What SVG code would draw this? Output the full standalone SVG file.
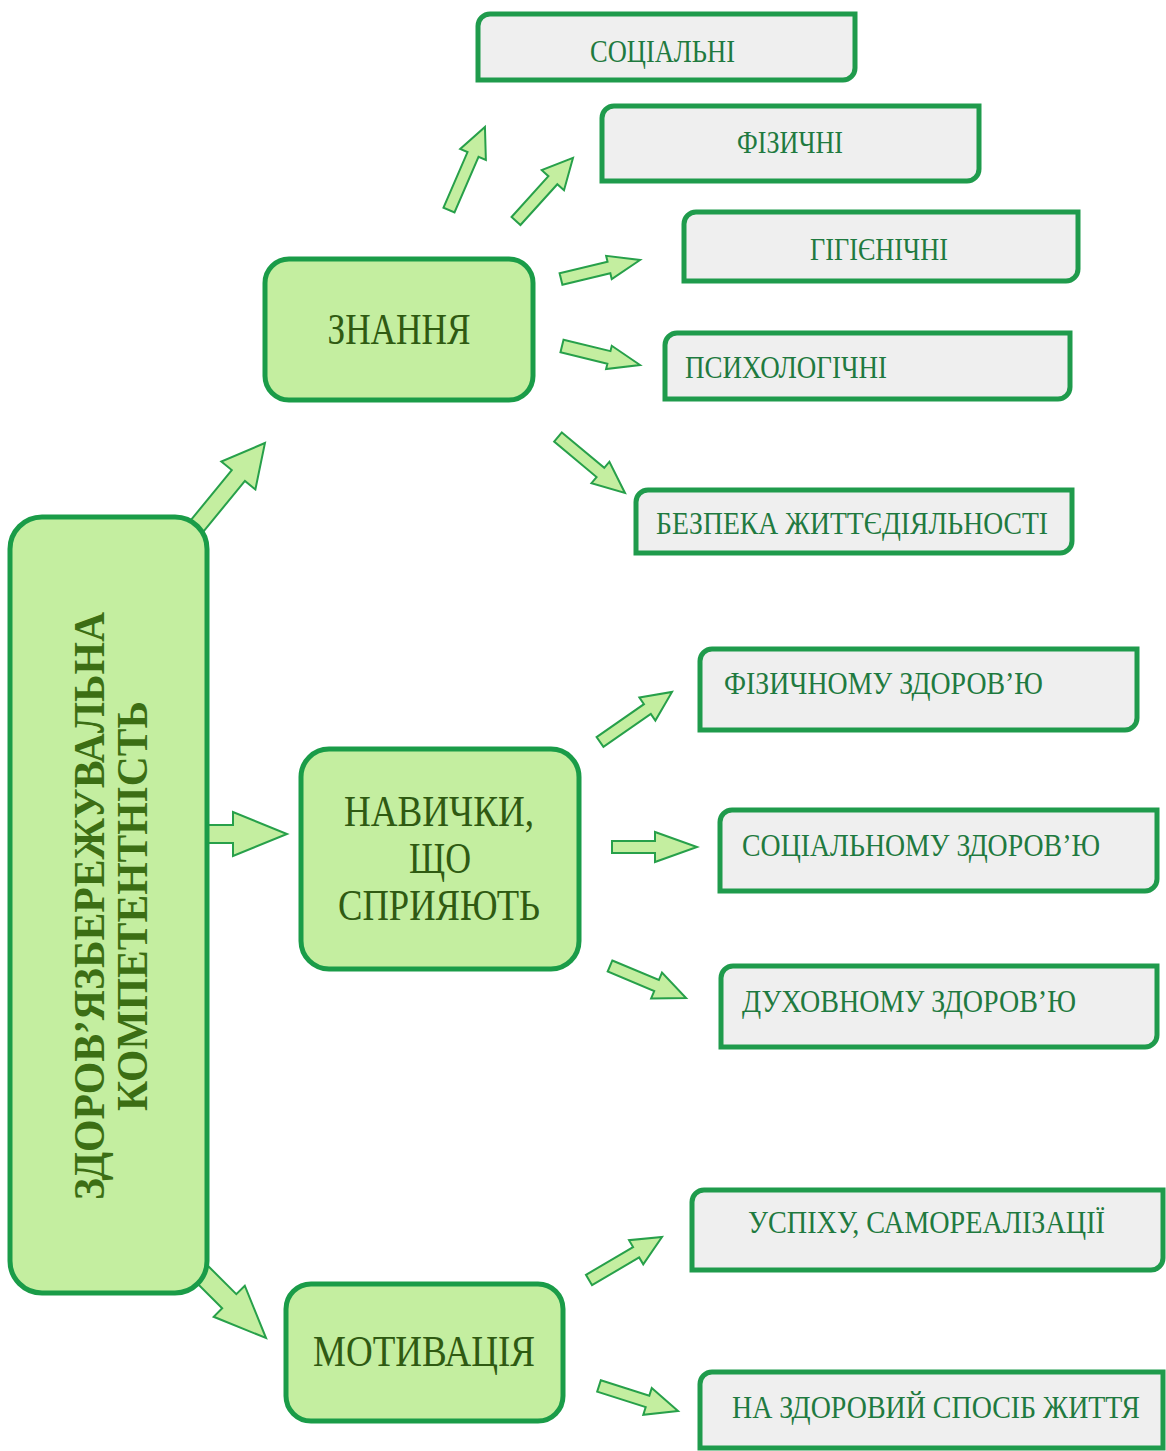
<svg xmlns="http://www.w3.org/2000/svg" width="1166" height="1451" viewBox="0 0 1166 1451">
<style>
.main{fill:#c4eea0;stroke:#1a9c48;stroke-width:5}
.leaf{fill:#efefef;stroke:#1f9b4c;stroke-width:5}
.arr{fill:#c4eea0;stroke:#27a04a;stroke-width:2;stroke-linejoin:miter}
.nt{font-family:"Liberation Serif","Times New Roman",serif;font-size:44px;fill:#2f5a12;text-anchor:middle}
.lt{font-family:"Liberation Serif","Times New Roman",serif;font-size:31px;fill:#1f7a40}
.mt{font-family:"Liberation Serif","Times New Roman",serif;font-size:44px;font-weight:bold;fill:#3c6e14;text-anchor:middle}
</style>
<rect width="1166" height="1451" fill="#ffffff"/>
<g id="connectors">
<polygon class="arr" transform="translate(188,537) rotate(-50.7)" points="0,-8.5 79.5,-8.5 79.5,-22 121.5,0 79.5,22 79.5,8.5 0,8.5"/>
<polygon class="arr" transform="translate(200,834) rotate(0)" points="0,-9 33,-9 33,-22 87,0 33,22 33,9 0,9"/>
<polygon class="arr" transform="translate(190,1262) rotate(45)" points="0,-10 55.5,-10 55.5,-22 107.5,0 55.5,22 55.5,10 0,10"/>
<polygon class="arr" transform="translate(449,210) rotate(-66.6)" points="0,-6 60.5,-6 60.5,-14 90.5,0 60.5,14 60.5,6 0,6"/>
<polygon class="arr" transform="translate(516,221) rotate(-47.9)" points="0,-6 55,-6 55,-15 85,0 55,15 55,6 0,6"/>
<polygon class="arr" transform="translate(561,279) rotate(-13.5)" points="0,-6 49.3,-6 49.3,-12 81.3,0 49.3,12 49.3,6 0,6"/>
<polygon class="arr" transform="translate(562,346) rotate(13.7)" points="0,-6.5 48.3,-6.5 48.3,-12 80.3,0 48.3,12 48.3,6.5 0,6.5"/>
<polygon class="arr" transform="translate(558,437) rotate(39.9)" points="0,-6 55.3,-6 55.3,-14 87.3,0 55.3,14 55.3,6 0,6"/>
<polygon class="arr" transform="translate(600,742) rotate(-34.8)" points="0,-6 57.7,-6 57.7,-14 87.7,0 57.7,14 57.7,6 0,6"/>
<polygon class="arr" transform="translate(612,847) rotate(0)" points="0,-6 43,-6 43,-15 85,0 43,15 43,6 0,6"/>
<polygon class="arr" transform="translate(610,966) rotate(22.8)" points="0,-6 50.5,-6 50.5,-14 82.5,0 50.5,14 50.5,6 0,6"/>
<polygon class="arr" transform="translate(589,1280) rotate(-30.5)" points="0,-6 54.7,-6 54.7,-14 84.7,0 54.7,14 54.7,6 0,6"/>
<polygon class="arr" transform="translate(599,1386) rotate(17.6)" points="0,-6 50.9,-6 50.9,-14 82.9,0 50.9,14 50.9,6 0,6"/>
</g>
<g id="main">
<rect class="main" x="10" y="517" width="197" height="776" rx="32"/>
<text class="mt" transform="translate(104,906) rotate(-90)" textLength="588" lengthAdjust="spacingAndGlyphs">ЗДОРОВ’ЯЗБЕРЕЖУВАЛЬНА</text>
<text class="mt" transform="translate(147,906) rotate(-90)" textLength="410" lengthAdjust="spacingAndGlyphs">КОМПЕТЕНТНІСТЬ</text>
</g>
<g id="znannia">
<rect class="main" x="265" y="259" width="268" height="141" rx="24"/>
<text class="nt" x="399" y="344" textLength="143" lengthAdjust="spacingAndGlyphs">ЗНАННЯ</text>
</g>
<g id="navychky">
<rect class="main" x="301" y="749" width="278" height="220" rx="28"/>
<text class="nt" x="439" y="826" textLength="190" lengthAdjust="spacingAndGlyphs">НАВИЧКИ,</text>
<text class="nt" x="440" y="873" textLength="62" lengthAdjust="spacingAndGlyphs">ЩО</text>
<text class="nt" x="439" y="920" textLength="202" lengthAdjust="spacingAndGlyphs">СПРИЯЮТЬ</text>
</g>
<g id="motyvatsiia">
<rect class="main" x="286" y="1284" width="277" height="137" rx="25"/>
<text class="nt" x="424" y="1366" textLength="222" lengthAdjust="spacingAndGlyphs">МОТИВАЦІЯ</text>
</g>
<g id="sotsialni">
<path class="leaf" d="M490,14 H855 V68 A12,12 0 0 1 843,80 H478 V26 A12,12 0 0 1 490,14 Z"/>
<text class="lt" x="590" y="62" textLength="145" lengthAdjust="spacingAndGlyphs">СОЦІАЛЬНІ</text>
</g>
<g id="fizychni">
<path class="leaf" d="M614,106 H979 V169 A12,12 0 0 1 967,181 H602 V118 A12,12 0 0 1 614,106 Z"/>
<text class="lt" x="737" y="153" textLength="106" lengthAdjust="spacingAndGlyphs">ФІЗИЧНІ</text>
</g>
<g id="hihienichni">
<path class="leaf" d="M696,212 H1078 V269 A12,12 0 0 1 1066,281 H684 V224 A12,12 0 0 1 696,212 Z"/>
<text class="lt" x="810" y="260" textLength="138" lengthAdjust="spacingAndGlyphs">ГІГІЄНІЧНІ</text>
</g>
<g id="psykholohichni">
<path class="leaf" d="M677,333 H1070 V387 A12,12 0 0 1 1058,399 H665 V345 A12,12 0 0 1 677,333 Z"/>
<text class="lt" x="685" y="378" textLength="202" lengthAdjust="spacingAndGlyphs">ПСИХОЛОГІЧНІ</text>
</g>
<g id="bezpeka">
<path class="leaf" d="M648,490 H1072 V541 A12,12 0 0 1 1060,553 H636 V502 A12,12 0 0 1 648,490 Z"/>
<text class="lt" x="656" y="534" textLength="392" lengthAdjust="spacingAndGlyphs">БЕЗПЕКА ЖИТТЄДІЯЛЬНОСТІ</text>
</g>
<g id="fiz-zdorovia">
<path class="leaf" d="M712,649 H1137 V718 A12,12 0 0 1 1125,730 H700 V661 A12,12 0 0 1 712,649 Z"/>
<text class="lt" x="724" y="694" textLength="319" lengthAdjust="spacingAndGlyphs">ФІЗИЧНОМУ ЗДОРОВ’Ю</text>
</g>
<g id="sots-zdorovia">
<path class="leaf" d="M732,810 H1157 V879 A12,12 0 0 1 1145,891 H720 V822 A12,12 0 0 1 732,810 Z"/>
<text class="lt" x="742" y="856" textLength="358" lengthAdjust="spacingAndGlyphs">СОЦІАЛЬНОМУ ЗДОРОВ’Ю</text>
</g>
<g id="dukh-zdorovia">
<path class="leaf" d="M733,966 H1157 V1035 A12,12 0 0 1 1145,1047 H721 V978 A12,12 0 0 1 733,966 Z"/>
<text class="lt" x="742" y="1012" textLength="334" lengthAdjust="spacingAndGlyphs">ДУХОВНОМУ ЗДОРОВ’Ю</text>
</g>
<g id="uspikh">
<path class="leaf" d="M704,1190 H1163 V1258 A12,12 0 0 1 1151,1270 H692 V1202 A12,12 0 0 1 704,1190 Z"/>
<text class="lt" x="748" y="1233" textLength="357" lengthAdjust="spacingAndGlyphs">УСПІХУ, САМОРЕАЛІЗАЦІЇ</text>
</g>
<g id="zdorovyi-sposib">
<path class="leaf" d="M712,1372 H1163 V1448 H700 V1384 A12,12 0 0 1 712,1372 Z"/>
<text class="lt" x="732" y="1418" font-size="27" textLength="408" lengthAdjust="spacingAndGlyphs">НА ЗДОРОВИЙ СПОСІБ ЖИТТЯ</text>
</g>
</svg>
